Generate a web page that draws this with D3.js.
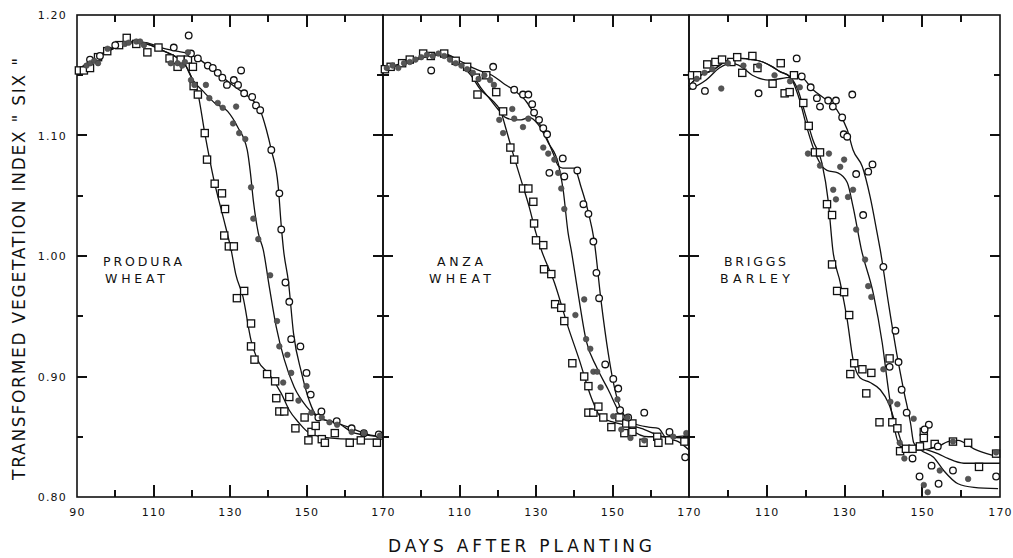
<!DOCTYPE html>
<html><head><meta charset="utf-8">
<script src="https://cdn.jsdelivr.net/npm/d3@7"></script>
<style>
html,body{margin:0;padding:0;background:#fff;}
svg{display:block;}
text{font-family:"DejaVu Sans",sans-serif;fill:#111;}
</style></head>
<body><svg id="c" width="1013" height="558"></svg>
<script>
// ---------- data (day after planting, SIX value) ----------
const panelNames = [["PRODURA","WHEAT"],["ANZA","WHEAT"],["BRIGGS","BARLEY"]];
const xTicksMajor = [90,110,130,150,170];
const xTicksMinor = [100,120,140,160];
const yTicksMajor = [0.80,0.90,1.00,1.10,1.20];
const yTicksMinor = [0.85,0.95,1.05,1.15];

const produraSquares = [[90.5,1.154],[91.8,1.154],[93.4,1.156],[95.5,1.165],[97.9,1.170],[101,1.175],[103,1.181],[105.5,1.176],[108.4,1.169],[111.3,1.173],[114.2,1.164],[116.3,1.157],[117.1,1.163],[119,1.163],[120.3,1.157],[120.5,1.141],[121.6,1.134],[123.4,1.102],[124,1.080],[126,1.060],[127.9,1.052],[128.7,1.039],[128.5,1.017],[129.7,1.008],[131,1.008],[131.8,0.965],[133.7,0.971],[135.5,0.944],[135.5,0.925],[136.4,0.914],[139.7,0.902],[141.8,0.896],[142.1,0.882],[142.9,0.871],[144.2,0.871],[145.5,0.883],[147.1,0.857],[149.5,0.866],[150.5,0.847],[151.3,0.854],[152.4,0.859],[154,0.848],[154.8,0.845],[157.4,0.853],[161.3,0.845],[164.2,0.847],[168.4,0.845]];
const produraDots = [[92.5,1.158],[93.5,1.160],[94.5,1.162],[95.5,1.160],[98,1.172],[102.5,1.176],[103.5,1.177],[105.5,1.178],[106.5,1.178],[107.5,1.175],[114.5,1.160],[116.3,1.160],[117.5,1.158],[118.2,1.161],[119,1.169],[119.8,1.146],[120.7,1.142],[123.7,1.142],[124.6,1.131],[126.8,1.127],[128.1,1.123],[130.8,1.110],[131.6,1.124],[132.4,1.102],[134,1.097],[135.5,1.057],[136.1,1.031],[137.4,1.014],[140.5,0.984],[142.3,0.946],[142.9,0.925],[145,0.918],[146,0.903],[143.9,0.895],[147.9,0.880],[150,0.892],[151.3,0.870],[154,0.866],[156,0.862],[158,0.860],[161.8,0.854],[165,0.853],[169.2,0.851]];
const produraCircles = [[93.4,1.163],[96,1.166],[100,1.175],[115.3,1.173],[119.2,1.183],[119.8,1.168],[121.6,1.164],[124.2,1.158],[125.5,1.156],[126.8,1.152],[128,1.148],[129.2,1.142],[131,1.146],[132.1,1.142],[132.9,1.154],[133.7,1.135],[135.8,1.132],[136.8,1.125],[137.9,1.121],[140.8,1.088],[142.9,1.052],[143.4,1.022],[144.5,0.978],[145.5,0.962],[146,0.931],[148.4,0.925],[150,0.903],[151.1,0.885],[153.1,0.866],[153.9,0.871],[157.9,0.863],[161.8,0.857],[165,0.853],[168.9,0.852]];
const produraSquareFit = [[90,1.154],[93,1.160],[96,1.166],[100,1.173],[104,1.177],[108,1.176],[112,1.171],[116,1.165],[118,1.160],[120,1.148],[121.6,1.135],[123.4,1.102],[125.8,1.063],[128.4,1.030],[130.3,1.005],[131.5,0.985],[133.4,0.966],[135.5,0.930],[137.5,0.912],[140,0.903],[143.4,0.886],[145.5,0.872],[147.9,0.862],[150.8,0.853],[155.8,0.849],[162,0.848],[170,0.848]];
const produraDotFit = [[90,1.154],[93,1.160],[96,1.166],[100,1.173],[104,1.177],[108,1.176],[112,1.171],[116,1.165],[118,1.160],[120.3,1.146],[123.2,1.136],[126,1.127],[129.4,1.120],[132,1.107],[134.5,1.088],[135.3,1.070],[136.1,1.046],[137.4,1.019],[138.7,1.005],[140.3,0.974],[142.1,0.941],[144.2,0.914],[146.8,0.891],[150,0.875],[153.1,0.866],[158.4,0.861],[162.6,0.853],[170,0.850]];
const produraCircleFit = [[90,1.154],[93,1.161],[96,1.167],[100,1.174],[104,1.178],[108,1.177],[112,1.173],[116,1.170],[119,1.168],[121.6,1.164],[124.2,1.158],[126.8,1.152],[128.6,1.147],[131,1.141],[133.7,1.135],[136,1.129],[137.9,1.121],[139.5,1.105],[140.8,1.088],[142.6,1.058],[143.4,1.025],[144,1.005],[145.3,0.978],[146.6,0.936],[148.7,0.903],[151.3,0.875],[153,0.866],[157.4,0.862],[161.8,0.857],[166,0.852],[170,0.850]];

const anzaSquares = [[90.5,1.155],[92,1.157],[95,1.160],[97,1.163],[100.5,1.168],[102.5,1.166],[106,1.168],[109,1.162],[112,1.157],[114.3,1.148],[114.7,1.134],[117,1.150],[119.6,1.136],[121.4,1.120],[123.3,1.090],[124.3,1.080],[126.6,1.056],[128,1.056],[129.3,1.045],[129.5,1.027],[130,1.013],[131.9,1.009],[132.1,0.989],[134,0.985],[135,0.960],[136.6,0.957],[137.4,0.946],[139.5,0.911],[142.6,0.900],[143.7,0.892],[143.7,0.870],[145,0.870],[146.3,0.875],[147.6,0.866],[149.7,0.858],[151.8,0.866],[153.1,0.853],[153.6,0.861],[155.2,0.861],[155.2,0.854],[158.1,0.845],[161.7,0.850],[162,0.845],[164.8,0.847],[168.8,0.846]];
const anzaDots = [[91,1.156],[92.5,1.158],[94,1.156],[95.5,1.160],[97,1.161],[98.5,1.163],[100,1.165],[101.5,1.167],[103,1.166],[104.5,1.168],[106,1.166],[107.5,1.163],[109,1.160],[110.5,1.158],[112,1.155],[113.5,1.152],[115,1.147],[116.5,1.150],[118,1.146],[119,1.142],[120.4,1.113],[121.4,1.102],[123.8,1.122],[124.3,1.114],[126.6,1.107],[128,1.114],[131.9,1.090],[133.2,1.085],[134.8,1.080],[135.8,1.069],[136.6,1.056],[137.4,1.039],[140.3,0.951],[142.6,0.964],[143.1,0.931],[144.2,0.923],[145,0.904],[146,0.904],[146.9,0.891],[150.2,0.867],[151.3,0.881],[152.3,0.856],[153.9,0.866],[154.7,0.849],[158.3,0.847],[165.9,0.850],[169.3,0.853]];
const anzaCircles = [[102.6,1.154],[118.8,1.157],[124.3,1.138],[126.6,1.134],[128,1.134],[129,1.126],[129.5,1.119],[130.8,1.113],[131.9,1.106],[132.9,1.101],[133.5,1.069],[137.0,1.081],[137.4,1.066],[140.8,1.071],[142.4,1.043],[143.7,1.035],[145,1.012],[145.8,0.986],[146.5,0.965],[148.1,0.910],[150.2,0.898],[151.5,0.890],[152,0.872],[154.1,0.866],[158.3,0.870],[164.9,0.854],[169,0.833]];
const anzaSquareFit = [[90,1.155],[94,1.158],[98,1.162],[102,1.166],[106,1.167],[110,1.160],[113,1.150],[115.5,1.138],[118.3,1.130],[120.9,1.119],[122.2,1.105],[124,1.085],[126.1,1.063],[128.2,1.041],[130,1.019],[131.4,1.005],[134.8,0.978],[138.4,0.941],[141.3,0.914],[144.4,0.883],[147,0.866],[150.5,0.862],[157.5,0.857],[163.6,0.850],[170,0.849]];
const anzaDotFit = [[90,1.155],[94,1.158],[98,1.162],[102,1.166],[106,1.167],[110,1.160],[113,1.152],[115.5,1.140],[118,1.130],[120,1.122],[122,1.115],[124.3,1.113],[126.1,1.113],[128.2,1.115],[130.6,1.109],[133.2,1.094],[135.8,1.077],[137.1,1.055],[138.4,1.019],[139.2,1.005],[141,0.969],[143.1,0.930],[145.8,0.908],[148.9,0.889],[151.8,0.870],[154.9,0.856],[159.4,0.850],[164.6,0.850],[170,0.851]];
const anzaCircleFit = [[90,1.156],[94,1.159],[98,1.163],[102,1.167],[106,1.168],[110,1.162],[113,1.157],[116,1.153],[118.5,1.150],[121.6,1.143],[124,1.138],[127.5,1.128],[130,1.115],[132.5,1.100],[134.5,1.085],[135.8,1.075],[137,1.073],[140,1.073],[141.8,1.057],[143.7,1.036],[145.2,1.013],[147,0.963],[148.9,0.919],[150.5,0.891],[152.3,0.872],[155.7,0.861],[159.4,0.858],[162,0.857],[164,0.849],[167.2,0.846],[170,0.839]];

const briggsSquares = [[90.8,1.150],[92.1,1.150],[94.7,1.159],[96.8,1.161],[98.5,1.163],[100.9,1.161],[102.4,1.165],[103.7,1.152],[106.3,1.166],[107.6,1.156],[111.5,1.143],[113.6,1.160],[114.6,1.135],[115.9,1.136],[117,1.150],[119.4,1.127],[120.8,1.108],[122.4,1.086],[123.7,1.086],[125.5,1.043],[126.8,1.034],[126.8,0.993],[128.1,0.971],[129.9,0.970],[131.2,0.951],[132.5,0.911],[131.5,0.902],[134.6,0.906],[136.9,0.903],[135.6,0.886],[139,0.862],[141.6,0.915],[142.3,0.862],[143.6,0.857],[144.3,0.838],[145.8,0.840],[147.5,0.840],[149.4,0.842],[150.4,0.854],[150.4,0.849],[153.2,0.844],[157.9,0.846],[161.8,0.845],[164.6,0.825],[169,0.836]];
const briggsDots = [[92,1.147],[94,1.152],[96,1.155],[98.3,1.139],[100,1.160],[104,1.158],[108,1.158],[112,1.150],[116,1.145],[118.5,1.140],[120.6,1.085],[123.7,1.075],[126,1.085],[127.1,1.055],[127.8,1.047],[128.9,1.074],[129.9,1.080],[130.9,1.049],[132.2,1.055],[133,1.022],[135.3,0.997],[136.1,0.975],[136.9,0.966],[140,0.906],[141.8,0.879],[143.6,0.877],[147.8,0.865],[144.2,0.845],[145.4,0.832],[150.4,0.810],[151.4,0.804],[154.5,0.822],[157.9,0.846],[161.8,0.815],[169,0.837]];
const briggsCircles = [[91,1.141],[94.1,1.137],[107.9,1.135],[117.7,1.164],[119,1.149],[121.3,1.140],[122.9,1.131],[123.7,1.124],[125.8,1.129],[127.8,1.129],[127,1.124],[129.4,1.115],[129.8,1.101],[130.7,1.099],[132,1.134],[133,1.068],[136.1,1.070],[137.2,1.076],[134.8,1.034],[140,0.991],[143.1,0.938],[143.9,0.912],[141.6,0.908],[144.7,0.889],[146,0.870],[151.7,0.860],[150.6,0.856],[147.5,0.832],[149.3,0.817],[152.4,0.826],[154.2,0.811],[157.9,0.822],[169,0.817],[154,0.842]];
const briggsSquareFit = [[90,1.141],[90.8,1.144],[93,1.150],[96,1.154],[100.4,1.163],[103,1.164],[106.3,1.163],[109,1.161],[111.5,1.157],[113.4,1.153],[115.9,1.149],[118,1.138],[119.8,1.119],[121.9,1.096],[124.2,1.077],[125.8,1.046],[127,1.005],[128.9,0.978],[130.7,0.947],[132.2,0.914],[134,0.899],[136.6,0.895],[139.2,0.889],[141.3,0.878],[143.6,0.856],[145.2,0.842],[148.8,0.839],[151.7,0.840],[154.2,0.842],[156.6,0.846],[159.2,0.847],[163.3,0.840],[167.7,0.835],[170,0.833]];
const briggsDotFit = [[90,1.141],[90.8,1.144],[93,1.150],[96,1.154],[100.4,1.163],[103,1.164],[106.3,1.163],[109,1.161],[111.5,1.157],[113.4,1.153],[115.9,1.149],[118.5,1.129],[120.3,1.107],[122.9,1.082],[125.5,1.071],[128.3,1.069],[130.7,1.061],[132.2,1.041],[134.3,1.006],[137.4,0.969],[139.7,0.928],[141.3,0.889],[142.6,0.861],[144.4,0.842],[147.8,0.841],[151.4,0.839],[154,0.836],[156.6,0.832],[160.7,0.828],[170,0.828]];
const briggsCircleFit = [[90,1.138],[94.4,1.146],[97.8,1.156],[101,1.160],[103.5,1.157],[106.3,1.150],[110.7,1.146],[115.1,1.148],[118.5,1.149],[121.9,1.138],[125.5,1.129],[128.1,1.121],[130.7,1.105],[132.2,1.088],[134.6,1.074],[136.6,1.049],[138.4,1.019],[139.2,1.005],[141.3,0.961],[143.6,0.916],[145.2,0.889],[147,0.861],[147.8,0.845],[149.6,0.839],[152.9,0.833],[155.5,0.822],[159.2,0.811],[163.3,0.808],[169.5,0.807]];

// ---------- assemble ----------
const panels = [
  {name:panelNames[0], sq:produraSquares, dot:produraDots, cir:produraCircles, fits:[produraSquareFit,produraDotFit,produraCircleFit]},
  {name:panelNames[1], sq:anzaSquares, dot:anzaDots, cir:anzaCircles, fits:[anzaSquareFit,anzaDotFit,anzaCircleFit]},
  {name:panelNames[2], sq:briggsSquares, dot:briggsDots, cir:briggsCircles, fits:[briggsSquareFit,briggsDotFit,briggsCircleFit]}
];

const svg = d3.select("#c");
const edges = [77, 383, 689, 1000];
const plotTop = 15, plotBottom = 497;
const y = d3.scaleLinear().domain([0.80,1.20]).range([plotBottom, plotTop]);
const labelPos = [
  {x:103, w:[79,60], anchor:"start"},
  {x:460, w:[46,62], anchor:"middle"},
  {x:755, w:[62,70], anchor:"middle"}
];
const ink = "#111";

panels.forEach((p,i) => {
  const x = d3.scaleLinear().domain([90,170]).range([edges[i], edges[i+1]]);
  const g = svg.append("g");

  // tick marks (bottom up, top down, left right, right left)
  const pth = d3.path();
  const xt = xTicksMajor.slice(1,4).map(v=>[v,12]).concat(xTicksMinor.map(v=>[v,7]));
  xt.forEach(([v,len]) => {
    const px = Math.round(x(v));
    pth.moveTo(px, plotBottom); pth.lineTo(px, plotBottom-len);
    pth.moveTo(px, plotTop); pth.lineTo(px, plotTop+len);
  });
  const yt = yTicksMajor.slice(1,4).map(v=>[v,10]).concat(yTicksMinor.map(v=>[v,6]));
  yt.forEach(([v,len]) => {
    const py = Math.round(y(v));
    pth.moveTo(edges[i], py); pth.lineTo(edges[i]+len, py);
    pth.moveTo(edges[i+1], py); pth.lineTo(edges[i+1]-len, py);
  });
  g.append("path").attr("d", pth.toString()).attr("fill","none").attr("stroke", ink).attr("stroke-width", 2);

  // tick labels via d3 axes
  const axStyle = sel => { sel.select(".domain").remove(); sel.selectAll(".tick line").remove(); sel.selectAll("text").attr("font-size",11).attr("letter-spacing","1.2px").attr("fill",ink); };
  const shownX = i===0 ? xTicksMajor : xTicksMajor.slice(1);
  g.append("g").attr("transform",`translate(0,${plotBottom})`)
    .call(d3.axisBottom(x).tickValues(shownX).tickSize(0).tickPadding(11).tickFormat(d3.format("d"))).call(axStyle);
  if (i===0) {
    g.append("g").attr("transform",`translate(${edges[i]},0)`)
      .call(d3.axisLeft(y).tickValues(yTicksMajor).tickSize(0).tickPadding(10).tickFormat(d3.format(".2f"))).call(axStyle);
  }

  // frame
  g.append("rect").attr("x",edges[i]).attr("y",plotTop).attr("width",edges[i+1]-edges[i]).attr("height",plotBottom-plotTop)
    .attr("fill","none").attr("stroke",ink).attr("stroke-width",1.6);

  // fitted curves
  const line = d3.line().x(d=>x(d[0])).y(d=>y(d[1])).curve(d3.curveMonotoneX);
  p.fits.forEach(f => g.append("path").attr("d",line(f)).attr("fill","none").attr("stroke",ink).attr("stroke-width",1.3));

  // markers
  g.append("g").selectAll("rect").data(p.sq).join("rect")
    .attr("x",d=>x(d[0])-3.6).attr("y",d=>y(d[1])-3.6).attr("width",7.2).attr("height",7.2)
    .attr("fill","#fff").attr("stroke",ink).attr("stroke-width",1.3);
  g.append("g").selectAll("circle").data(p.cir).join("circle")
    .attr("cx",d=>x(d[0])).attr("cy",d=>y(d[1])).attr("r",3.3)
    .attr("fill","#fff").attr("stroke",ink).attr("stroke-width",1.3);
  g.append("g").selectAll("circle").data(p.dot).join("circle")
    .attr("cx",d=>x(d[0])).attr("cy",d=>y(d[1])).attr("r",2.8)
    .attr("fill","#555").attr("stroke","#444").attr("stroke-width",0.6);

  // panel label
  const lp = labelPos[i];
  p.name.forEach((t,k) => {
    g.append("text").attr("x", lp.anchor==="start" ? lp.x + (k?2:0) : lp.x).attr("y", 266 + k*16.5)
      .attr("text-anchor", lp.anchor).attr("font-size",12.5)
      .attr("textLength", lp.w[k]).attr("lengthAdjust","spacing").text(t);
  });
});

// axis titles
svg.append("text").attr("x",520).attr("y",552).attr("text-anchor","middle").attr("font-size",17)
  .attr("textLength",264).attr("lengthAdjust","spacing").text("DAYS AFTER PLANTING");
svg.append("text").attr("transform","translate(25,269) rotate(-90)").attr("text-anchor","middle").attr("font-size",17)
  .attr("textLength",422).attr("lengthAdjust","spacing").text("TRANSFORMED VEGETATION INDEX \" SIX \"");
</script></body></html>
